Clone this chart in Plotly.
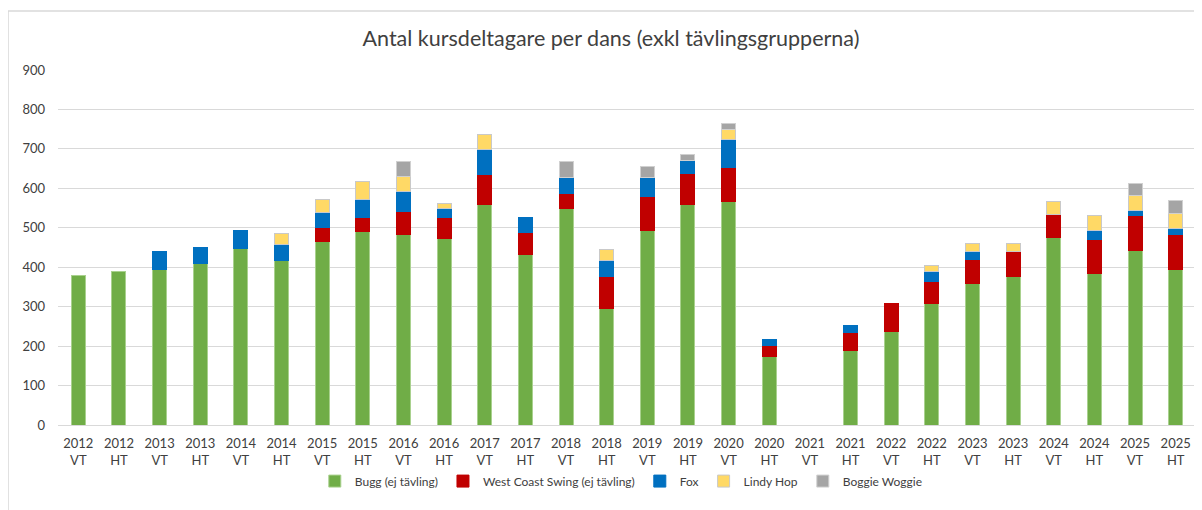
import plotly.graph_objects as go

years = ["2012", "2012", "2013", "2013", "2014", "2014", "2015", "2015", "2016", "2016",
         "2017", "2017", "2018", "2018", "2019", "2019", "2020", "2020", "2021", "2021",
         "2022", "2022", "2023", "2023", "2024", "2024", "2025", "2025"]
terms = ["VT", "HT"] * 14

bugg = [379, 388, 393, 409, 448, 417, 466, 491, 483, 474, 558, 433, 550, 296,
        494, 558, 567, 174, 0, 190, 238, 309, 358, 376, 475, 383, 442, 395]
wcs = [0, 0, 0, 0, 0, 0, 35, 36, 59, 53, 76, 56, 36, 81,
       85, 79, 86, 28, 0, 44, 69, 56, 62, 64, 58, 88, 88, 88]
fox = [0, 0, 46, 42, 46, 41, 37, 44, 50, 22, 64, 38, 41, 41,
       48, 34, 72, 14, 0, 18, 0, 24, 20, 0, 0, 21, 14, 16]
lindy = [0, 0, 0, 0, 0, 27, 34, 46, 38, 13, 39, 0, 0, 28,
         0, 0, 24, 0, 0, 0, 0, 15, 19, 19, 33, 38, 39, 37]
boogie = [0, 0, 0, 0, 0, 0, 0, 0, 37, 0, 0, 0, 41, 0,
          28, 14, 15, 0, 0, 0, 0, 0, 0, 0, 0, 0, 30, 32]

series = [
    ("Bugg (ej tävling)", bugg, "#70AD47", "#A9D18E"),
    ("West Coast Swing (ej tävling)", wcs, "#C00000", "#C00000"),
    ("Fox", fox, "#0070C0", "#0070C0"),
    ("Lindy Hop", lindy, "#FFD966", "#C9C9C9"),
    ("Boggie Woggie", boogie, "#A5A5A5", "#D0D0D0"),
]

cats = [f"{y}<br>{t}" for y, t in zip(years, terms)]

fig = go.Figure()
for name, vals, col, lcol in series:
    fig.add_trace(go.Bar(
        x=cats, y=[v if v else None for v in vals], name=name,
        marker=dict(color=col, line=dict(color=lcol, width=1)),
    ))

font_fam = "Lato, 'Open Sans', sans-serif"

fig.update_layout(
    barmode="stack",
    bargap=0.655,
    width=1194, height=502,
    margin=dict(l=50, r=6, t=62, b=85),
    paper_bgcolor="white",
    plot_bgcolor="white",
    title=dict(text="Antal kursdeltagare per dans (exkl tävlingsgrupperna)",
               x=0.505, xanchor="center", y=0.94, yanchor="middle",
               font=dict(family=font_fam, size=21.5, color="#404040")),
    font=dict(family=font_fam, color="#595959"),
    xaxis=dict(type="category", tickfont=dict(size=13, color="#404040"),
               showline=False, showgrid=False, ticks="", ticklabelstandoff=9),
    yaxis=dict(range=[0, 900], dtick=100, gridcolor="#D9D9D9", gridwidth=1,
               tickfont=dict(size=13, color="#404040"), ticks="",
               zeroline=True, zerolinecolor="#D9D9D9", zerolinewidth=1,
               ticklabelstandoff=12, fixedrange=True),
    legend=dict(orientation="h", x=0.495, xanchor="center", y=-0.158, yanchor="middle",
                font=dict(size=12, color="#404040"), itemwidth=30,
                traceorder="normal", bgcolor="rgba(0,0,0,0)"),
    showlegend=True,
    shapes=[dict(type="rect", xref="paper", yref="paper",
                 x0=-0.0439, x1=1.01, y0=-0.3, y1=1.166,
                 line=dict(color="#D9D9D9", width=1.5), fillcolor="rgba(0,0,0,0)",
                 layer="below")],
)

fig.write_html("out.html")
